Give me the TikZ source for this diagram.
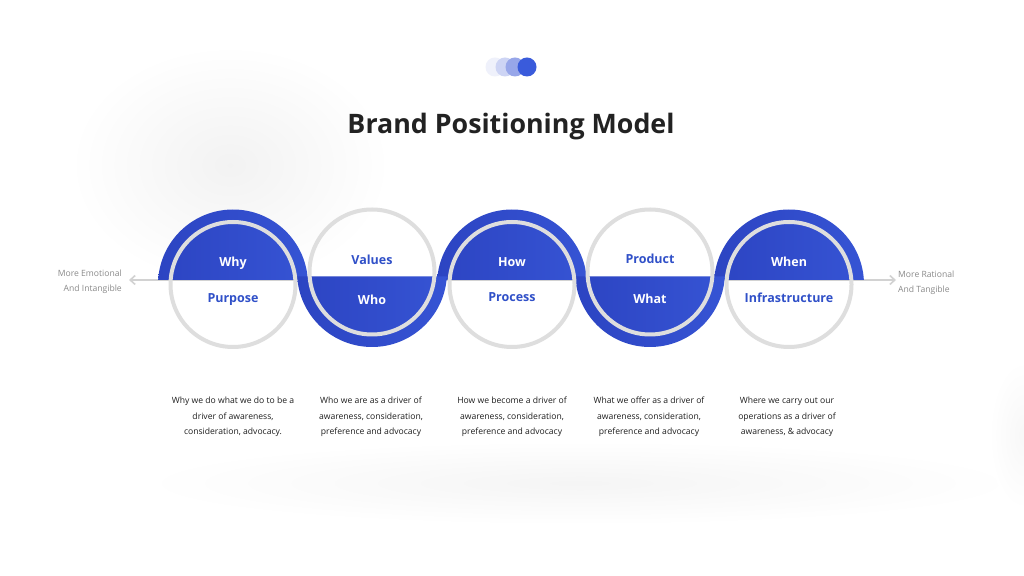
\documentclass[tikz,border=0pt]{standalone}
\usepackage{fontspec}
\setmainfont{Open Sans}
\usetikzlibrary{arrows.meta}
\definecolor{bluedark}{HTML}{2C44C2}
\definecolor{bluelight}{HTML}{3654D4}
\definecolor{bluetext}{HTML}{3050C8}
\definecolor{ringgray}{HTML}{DEDEDE}
\definecolor{axisgray}{HTML}{D2D2D2}
\definecolor{sidegray}{HTML}{8A8A8A}
\definecolor{titlecol}{HTML}{222222}
\definecolor{desccol}{HTML}{1E1E1E}
\definecolor{dotA}{HTML}{EFF1FB}
\definecolor{dotB}{HTML}{CDD4F4}
\definecolor{dotC}{HTML}{97A6E9}
\definecolor{dotD}{HTML}{3A5BDB}
\tikzset{
  ring/.style={circle, draw=ringgray, line width=4pt, minimum size=125pt, inner sep=0pt},
  lab/.style={anchor=base, font=\fontsize{12.5}{15}\selectfont\bfseries},
  labw/.style={lab, text=white},
  labb/.style={lab, text=bluetext},
  desc/.style={align=center, text=desccol, font=\fontsize{8.6}{15.5}\selectfont},
  side/.style={text=sidegray, font=\fontsize{8.6}{15}\selectfont, inner sep=0pt},
  bluefill/.style={left color=bluedark, right color=bluelight, draw=none},
}
\begin{document}
\begin{tikzpicture}[x=1pt,y=1pt]
\useasboundingbox (0,0) rectangle (1024,575);
\fill[white] (0,0) rectangle (1024,575);
% soft background shadows
\shade[inner color=black!5, outer color=white] (230,410) ellipse (160 and 120);
\shade[inner color=black!4, outer color=white] (580,92) ellipse (440 and 42);
\shade[inner color=black!3, outer color=white] (1024,140) ellipse (35 and 75);
% top dots
\fill[dotA] (495,508) circle (9.5);
\fill[dotB] (505,508) circle (9.5);
\fill[dotC] (515,508) circle (9.5);
\fill[dotD] (527,508) circle (9.5);
% title
\node[anchor=base, text=titlecol, font=\fontsize{26.8}{30}\selectfont\bfseries] (title) at (511,441) {Brand Positioning Model};
% axis
\coordinate (L) at (129,295);
\coordinate (R) at (896,295);
\draw[axisgray, line width=1.6pt, {Straight Barb[length=5pt,width=9pt]}-{Straight Barb[length=5pt,width=9pt]}] (L) -- (R);
% blue segments (top halves)
\foreach \x in {233,512,789} {
  \shade[bluefill] (\x,290.5) ++(3.44:75) arc[start angle=3.44, end angle=176.56, radius=75] -- cycle;
}
% blue segments (bottom halves)
\foreach \x in {372,650} {
  \shade[bluefill] (\x,303) ++(-3.44:75) arc[start angle=-3.44, end angle=-176.56, radius=75] -- cycle;
}
% rings
\node[ring] (c1) at (233,290.5) {};
\node[ring] (c2) at (372,303) {};
\node[ring] (c3) at (512,290.5) {};
\node[ring] (c4) at (650,303) {};
\node[ring] (c5) at (789,290.5) {};
% labels
\node[labw] (t1) at (233,308.5) {Why};
\node[labb] (b1) at (233,272.5) {Purpose};
\node[labb] (t2) at (372,310.5) {Values};
\node[labw] (b2) at (372,270.5) {Who};
\node[labw] (t3) at (512,308.5) {How};
\node[labb] (b3) at (512,273.5) {Process};
\node[labb] (t4) at (650,311.5) {Product};
\node[labw] (b4) at (650,271.5) {What};
\node[labw] (t5) at (789,308.5) {When};
\node[labb] (b5) at (789,272.5) {Infrastructure};
% side labels
\node[side, anchor=base east] (s1) at (122,298) {More Emotional};
\node[side, anchor=base east] (s2) at (122,283) {And Intangible};
\node[side, anchor=base west] (s3) at (898,297) {More Rational};
\node[side, anchor=base west] (s4) at (898,282) {And Tangible};
% descriptions
\node[desc] (d1) at (233,158) {Why we do what we do to be a\\driver of awareness,\\consideration, advocacy.};
\node[desc] (d2) at (371,158) {Who we are as a driver of\\awareness, consideration,\\preference and advocacy};
\node[desc] (d3) at (512,158) {How we become a driver of\\awareness, consideration,\\preference and advocacy};
\node[desc] (d4) at (649,158) {What we offer as a driver of\\awareness, consideration,\\preference and advocacy};
\node[desc] (d5) at (787,158) {Where we carry out our\\operations as a driver of\\awareness, \& advocacy};
\end{tikzpicture}
\end{document}
